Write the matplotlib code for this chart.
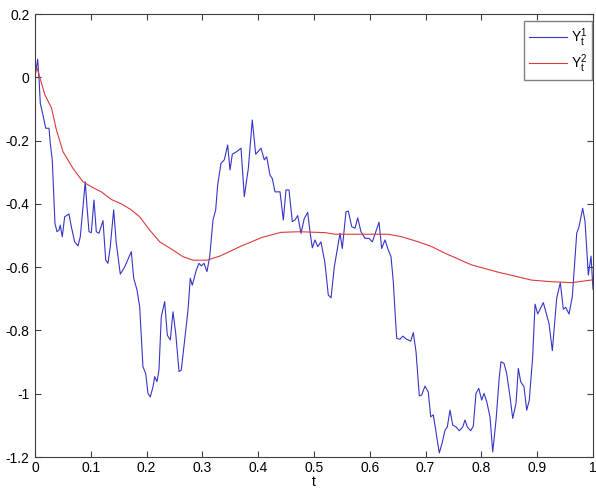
"""Two sample paths Y_t^1 (rough) and Y_t^2 (smooth) on t in [0, 1]."""
import matplotlib

matplotlib.use("Agg")
import matplotlib.pyplot as plt

plt.rcParams["font.family"] = ["Liberation Sans", "DejaVu Sans"]
plt.rcParams["mathtext.default"] = "regular"

# Rough path Y_t^1
t_rough = [
    0.0, 0.0048, 0.0072, 0.0095, 0.0143, 0.0192, 0.0251, 0.0274, 0.0310, 0.0335,
    0.0358, 0.0394, 0.0430, 0.0453, 0.0489, 0.0532, 0.0609, 0.0651, 0.0711, 0.0771,
    0.0812, 0.0860, 0.0901, 0.0932, 0.0968, 0.1009, 0.1057, 0.1099, 0.1147, 0.1219,
    0.1267, 0.1308, 0.1349, 0.1410, 0.1457, 0.1529, 0.1608, 0.1726, 0.1769, 0.1828,
    0.1876, 0.1905, 0.1935, 0.1984, 0.2025, 0.2066, 0.2115, 0.2145, 0.2186, 0.2222,
    0.2263, 0.2324, 0.2371, 0.2425, 0.2473, 0.2522, 0.2581, 0.2622, 0.2683, 0.2742,
    0.2783, 0.2819, 0.2891, 0.2939, 0.2980, 0.3029, 0.3082, 0.3131, 0.3190, 0.3238,
    0.3274, 0.3333, 0.3392, 0.3453, 0.3495, 0.3536, 0.3615, 0.3692, 0.3751, 0.3823,
    0.3894, 0.3955, 0.4050, 0.4109, 0.4152, 0.4211, 0.4253, 0.4301, 0.4391, 0.4450,
    0.4498, 0.4552, 0.4611, 0.4659, 0.4708, 0.4767, 0.4826, 0.4887, 0.4928, 0.4970,
    0.5018, 0.5066, 0.5125, 0.5197, 0.5256, 0.5305, 0.5364, 0.5425, 0.5466, 0.5507,
    0.5573, 0.5615, 0.5676, 0.5735, 0.5783, 0.5842, 0.5914, 0.5986, 0.6045, 0.6106,
    0.6165, 0.6213, 0.6272, 0.6332, 0.6380, 0.6421, 0.6452, 0.6482, 0.6541, 0.6590,
    0.6661, 0.6733, 0.6780, 0.6828, 0.6887, 0.6930, 0.6989, 0.7048, 0.7091, 0.7138,
    0.7186, 0.7245, 0.7294, 0.7348, 0.7389, 0.7437, 0.7486, 0.7545, 0.7604, 0.7665,
    0.7706, 0.7747, 0.7808, 0.7855, 0.7903, 0.7952, 0.8005, 0.8047, 0.8095, 0.8154,
    0.8203, 0.8262, 0.8321, 0.8351, 0.8405, 0.8453, 0.8513, 0.8561, 0.8620, 0.8661,
    0.8704, 0.8763, 0.8812, 0.8858, 0.8919, 0.8961, 0.9009, 0.9109, 0.9211, 0.9271,
    0.9349, 0.9414, 0.9468, 0.9511, 0.9570, 0.9629, 0.9708, 0.9749, 0.9815, 0.9857,
    0.9916, 0.9964, 1.0,
]
y_rough = [
    0.0, 0.057, -0.003, -0.082, -0.119, -0.161, -0.161, -0.209, -0.262, -0.367,
    -0.462, -0.488, -0.483, -0.467, -0.504, -0.441, -0.432, -0.472, -0.520, -0.533,
    -0.504, -0.409, -0.330, -0.409, -0.488, -0.491, -0.388, -0.488, -0.493, -0.453,
    -0.577, -0.588, -0.535, -0.419, -0.525, -0.622, -0.599, -0.551, -0.635, -0.672,
    -0.725, -0.820, -0.915, -0.936, -0.999, -1.010, -0.978, -0.946, -0.962, -0.925,
    -0.757, -0.709, -0.815, -0.830, -0.741, -0.809, -0.930, -0.925, -0.830, -0.736,
    -0.635, -0.657, -0.609, -0.588, -0.596, -0.588, -0.614, -0.567, -0.451, -0.419,
    -0.340, -0.272, -0.261, -0.214, -0.293, -0.243, -0.235, -0.224, -0.377, -0.288,
    -0.135, -0.243, -0.224, -0.261, -0.251, -0.309, -0.320, -0.362, -0.362, -0.451,
    -0.356, -0.356, -0.456, -0.451, -0.437, -0.493, -0.446, -0.427, -0.488, -0.539,
    -0.514, -0.535, -0.520, -0.588, -0.688, -0.697, -0.599, -0.535, -0.493, -0.541,
    -0.425, -0.423, -0.472, -0.477, -0.444, -0.488, -0.509, -0.509, -0.520, -0.488,
    -0.458, -0.541, -0.514, -0.546, -0.567, -0.646, -0.741, -0.825, -0.828, -0.818,
    -0.828, -0.834, -0.807, -0.867, -1.007, -1.004, -0.976, -0.994, -1.073, -1.067,
    -1.120, -1.187, -1.157, -1.115, -1.105, -1.052, -1.099, -1.105, -1.117, -1.105,
    -1.083, -1.105, -1.117, -1.102, -0.999, -0.983, -1.020, -0.999, -1.025, -1.073,
    -1.184, -1.083, -0.946, -0.899, -0.904, -0.936, -1.010, -1.078, -1.030, -0.920,
    -0.962, -0.978, -1.052, -1.020, -0.883, -0.717, -0.748, -0.712, -0.778, -0.864,
    -0.698, -0.649, -0.733, -0.727, -0.748, -0.693, -0.493, -0.472, -0.414, -0.456,
    -0.625, -0.565, -0.670,
]

# Smooth path Y_t^2
t_smooth = [
    0.0, 0.0041, 0.0090, 0.0179, 0.0296, 0.0385, 0.0502, 0.0681, 0.0860, 0.1009,
    0.1188, 0.1367, 0.1547, 0.1726, 0.1876, 0.2056, 0.2235, 0.2473, 0.2652, 0.2832,
    0.3082, 0.3315, 0.3674, 0.4068, 0.4409, 0.4749, 0.5197, 0.5376, 0.5735, 0.6332,
    0.6572, 0.6869, 0.7109, 0.7348, 0.7826, 0.8303, 0.8901, 0.9260, 0.9618, 1.0,
]
y_smooth = [
    0.017, 0.028, -0.003, -0.056, -0.097, -0.167, -0.235, -0.288, -0.330, -0.346,
    -0.362, -0.386, -0.400, -0.419, -0.441, -0.483, -0.520, -0.546, -0.567, -0.578,
    -0.578, -0.565, -0.535, -0.506, -0.490, -0.488, -0.491, -0.496, -0.496, -0.496,
    -0.504, -0.520, -0.535, -0.556, -0.593, -0.616, -0.641, -0.646, -0.649, -0.640,
]

x_ticks = [0, 0.1, 0.2, 0.3, 0.4, 0.5, 0.6, 0.7, 0.8, 0.9, 1]
x_ticklabels = ["0", "0.1", "0.2", "0.3", "0.4", "0.5", "0.6", "0.7", "0.8", "0.9", "1"]
y_ticks = [-1.2, -1.0, -0.8, -0.6, -0.4, -0.2, 0, 0.2]
y_ticklabels = ["-1.2", "-1", "-0.8", "-0.6", "-0.4", "-0.2", "0", "0.2"]

axis_color = "#404040"

fig = plt.figure(figsize=(5.96, 4.88), dpi=100)
ax = fig.add_axes([0.0587, 0.0635, 0.9363, 0.9078])

ax.plot(t_rough, y_rough, color="#3535c8", linewidth=0.8, label=r"$Y_t^1$")
ax.plot(t_smooth, y_smooth, color="#dc3a3a", linewidth=0.8, label=r"$Y_t^2$")

ax.set_xlim(0, 1)
ax.set_ylim(-1.2, 0.2)
ax.set_xticks(x_ticks)
ax.set_xticklabels(x_ticklabels)
ax.set_yticks(y_ticks)
ax.set_yticklabels(y_ticklabels)
ax.tick_params(direction="in", length=4, width=0.8, color=axis_color,
               labelsize=10, top=True, right=True, pad=4)
ax.tick_params(axis="x", pad=3)
for spine in ax.spines.values():
    spine.set_color(axis_color)
    spine.set_linewidth(0.8)

ax.set_xlabel("t", fontsize=10, labelpad=0)

leg = ax.legend(loc="upper right", bbox_to_anchor=(0.998, 0.984),
                borderaxespad=0, fontsize=10, handlelength=2.7,
                fancybox=False, framealpha=1, edgecolor="#808080",
                labelspacing=0.3, borderpad=0.35, handletextpad=0.3)
leg.get_frame().set_linewidth(1.0)

fig.savefig("out.png", dpi=100)
plt.close(fig)
